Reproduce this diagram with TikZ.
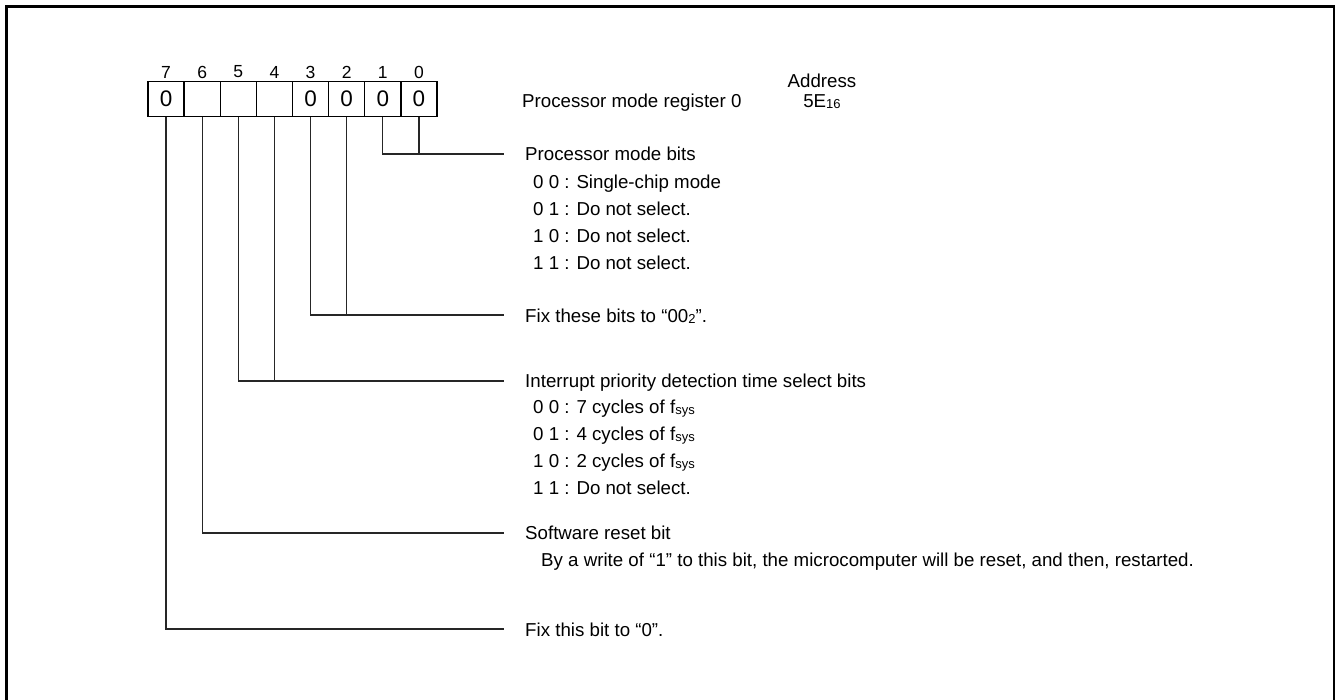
\documentclass[tikz,border=0pt]{standalone}
\usepackage{fontspec}
\setmainfont{Liberation Sans}
\newcommand{\sm}[1]{\raisebox{-0.8pt}{\fontsize{13}{13}\selectfont #1}}
\tikzset{
  cell/.style={draw, line width=1.3pt, minimum width=36.125pt, minimum height=35pt, inner sep=0pt, font=\fontsize{22.5}{22.5}\selectfont},
  bitnum/.style={inner sep=0pt, font=\fontsize{17.5}{17.5}\selectfont},
  lbl/.style={anchor=base west, inner sep=0pt},
  leader/.style={line width=1.2pt, draw=black!85},
}
\begin{document}
\begin{tikzpicture}[x=1pt,y=-1pt,font=\fontsize{18.7}{22}\selectfont]
\useasboundingbox (0,0) rectangle (1337,700);
\draw[line width=2.5pt] (6.5,705) -- (6.5,6.5) -- (1334,6.5) -- (1334,705);
% cells
\foreach \b/\v [count=\k from 0] in {7/0,6/,5/,4/,3/0,2/0,1/0,0/0}{
  \node[cell] (b\b) at ({166.06+\k*36.125},99.2) {\v};
  \node[bitnum] (n\b) at ({166.06+\k*36.125},72) {\b};
}
% header texts
\node[lbl] (reg) at (522,107.5) {Processor mode register 0};
\node[anchor=base, inner sep=0pt] (addr) at (822,87.5) {Address};
\node[anchor=base, inner sep=0pt] (addrv) at (822,107.5) {5E\sm{16}};
% group: processor mode bits
\node[lbl] (t10) at (525,160.5) {Processor mode bits};
\node[lbl] (t10a) at (533,188.5) {0 0 : Single-chip mode};
\node[lbl] (t10b) at (533,215.5) {0 1 : Do not select.};
\node[lbl] (t10c) at (533,242.5) {1 0 : Do not select.};
\node[lbl] (t10d) at (533,269.5) {1 1 : Do not select.};
% fix bits 3,2
\node[lbl] (t32) at (525,322.5) {Fix these bits to “00\sm{2}”.};
% interrupt priority
\node[lbl] (t54) at (525,387.5) {Interrupt priority detection time select bits};
\node[lbl] (t54a) at (533,413.5) {0 0 : 7 cycles of f\sm{sys}};
\node[lbl] (t54b) at (533,440.5) {0 1 : 4 cycles of f\sm{sys}};
\node[lbl] (t54c) at (533,467.5) {1 0 : 2 cycles of f\sm{sys}};
\node[lbl] (t54d) at (533,494.5) {1 1 : Do not select.};
% software reset
\node[lbl] (t6) at (525,539.5) {Software reset bit};
\node[lbl] (t6a) at (541,566.5) {By a write of “1” to this bit, the microcomputer will be reset, and then, restarted.};
% fix bit 7
\node[lbl] (t7) at (525,636.5) {Fix this bit to “0”.};
% leader ends
\coordinate (e10) at (504,154);
\coordinate (e32) at (504,315);
\coordinate (e54) at (504,381);
\coordinate (e6) at (504,533);
\coordinate (e7) at (504,629);
\draw[leader] (b1.south) |- (e10);
\draw[leader] (b0.south) -- (b0.south |- e10);
\draw[leader] (b3.south) |- (e32);
\draw[leader] (b2.south) -- (b2.south |- e32);
\draw[leader] (b5.south) |- (e54);
\draw[leader] (b4.south) -- (b4.south |- e54);
\draw[leader] (b6.south) |- (e6);
\draw[leader] (b7.south) |- (e7);
\end{tikzpicture}
\end{document}
